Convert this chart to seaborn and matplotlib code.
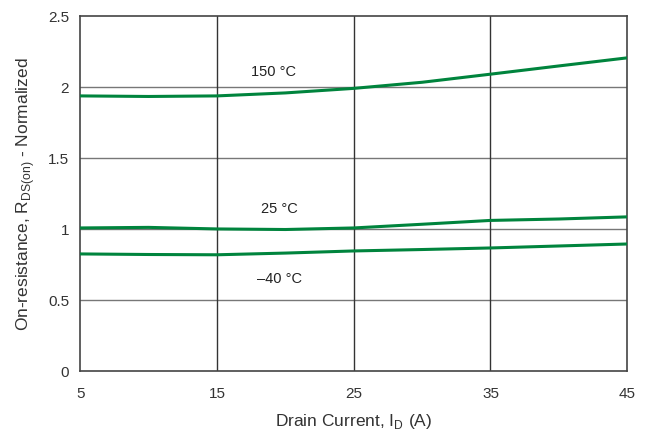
import pandas as pd
import numpy as np
import matplotlib
matplotlib.use('Agg')
import matplotlib.pyplot as plt
import seaborn as sns

current = [5, 10, 15, 20, 25, 30, 35, 40, 45]
r_150 = [1.937, 1.933, 1.937, 1.958, 1.99, 2.033, 2.09, 2.148, 2.205]
r_25 = [1.007, 1.011, 1.0, 0.996, 1.007, 1.033, 1.06, 1.07, 1.085]
r_m40 = [0.824, 0.82, 0.818, 0.83, 0.845, 0.855, 0.866, 0.88, 0.894]
temps = ['150 °C', '25 °C', '–40 °C']
label_pos = [(19.1, 2.11), (19.6, 1.15), (19.6, 0.655)]
x_ticks = [5, 15, 25, 35, 45]
y_ticks = [0, 0.5, 1, 1.5, 2, 2.5]
y_ticklabels = ['0', '0.5', '1', '1.5', '2', '2.5']

df = pd.DataFrame({
    'current': current * 3,
    'r': r_150 + r_25 + r_m40,
    'temp': [temps[0]] * 9 + [temps[1]] * 9 + [temps[2]] * 9,
})

sns.set_style('white')
plt.rcParams['font.family'] = ['Liberation Sans', 'DejaVu Sans']
plt.rcParams['mathtext.fontset'] = 'custom'
plt.rcParams['mathtext.rm'] = 'Liberation Sans'

fig, ax = plt.subplots(figsize=(6.52, 4.35), dpi=100)
fig.subplots_adjust(left=0.123, right=0.962, top=0.961, bottom=0.145)

green = '#00843d'
sns.lineplot(data=df, x='current', y='r', hue='temp',
             palette=[green, green, green], linewidth=2.2,
             legend=False, ax=ax, zorder=3)

for t, (lx, ly) in zip(temps, label_pos):
    ax.text(lx, ly, t, fontsize=10.5, ha='center', va='center', color='#222222')

ax.set_xlim(5, 45)
ax.set_ylim(0, 2.5)
ax.set_xticks(x_ticks)
ax.set_yticks(y_ticks)
ax.set_yticklabels(y_ticklabels)
ax.tick_params(length=0, labelsize=11, colors='#333333')
ax.tick_params(axis='x', pad=11)
ax.tick_params(axis='y', pad=8)

for y in [0.5, 1, 1.5, 2]:
    ax.axhline(y, color='#777777', linewidth=1, zorder=1)
for x in [15, 25, 35]:
    ax.axvline(x, color='#333333', linewidth=1, zorder=1)
for s in ax.spines.values():
    s.set_color('#444444')
    s.set_linewidth(1.2)

ax.set_xlabel(r'Drain Current, I$_{\mathrm{D}}$ (A)', fontsize=12.5, color='#333333', labelpad=8)
ax.set_ylabel(r'On-resistance, R$_{\mathrm{DS(on)}}$ - Normalized', fontsize=12.5,
              color='#333333', labelpad=8)

fig.savefig('out.png', dpi=100)
